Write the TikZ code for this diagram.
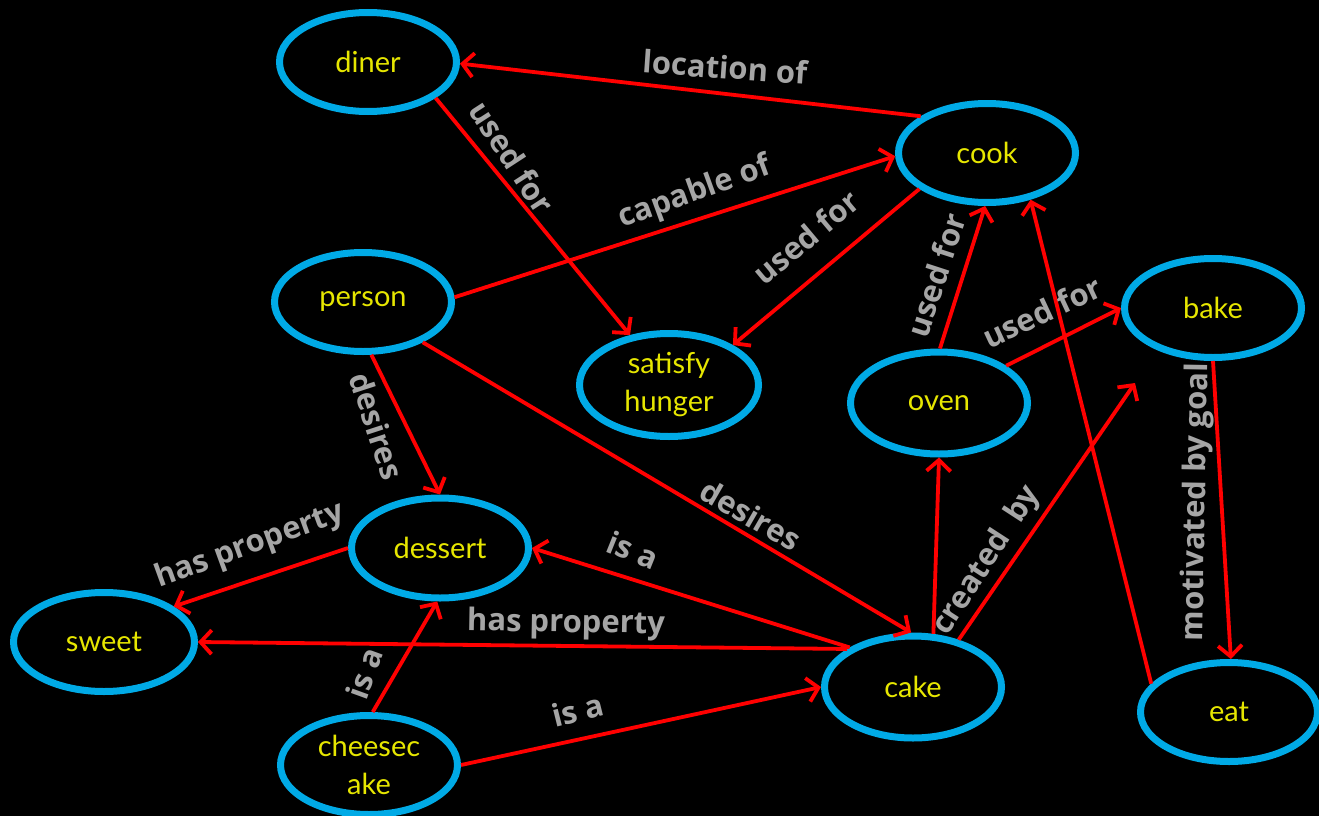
\documentclass[tikz,border=0pt]{standalone}
\usepackage{fontspec}
\setmainfont{Lato}
\newfontfamily\lblfont{Open Sans}
\usetikzlibrary{shapes.geometric,arrows.meta}
\definecolor{cblue}{RGB}{0,170,230}
\definecolor{cyellow}{RGB}{230,230,0}
\definecolor{lblgray}{RGB}{165,165,165}
\definecolor{cred}{RGB}{255,0,0}
\begin{document}
\begin{tikzpicture}[x=1pt,y=-1pt,
  concept/.style={ellipse, draw=cblue, line width=7pt, minimum width=177pt, minimum height=99pt,
    inner sep=0pt, text=cyellow, font=\fontsize{29}{38}\selectfont, align=center},
  conn/.style={draw=cred, line width=3.8pt, -{Straight Barb[length=11pt,width=24pt]}},
  lbl/.style={text=lblgray, font=\lblfont\bfseries\fontsize{31}{33}\selectfont, inner sep=0pt}]
\fill[black] (0,0) rectangle (1319,816);
\useasboundingbox (0,0) rectangle (1319,816);
% nodes
\node[concept] (diner) at (368,62) {diner};
\node[concept] (cook) at (987,153) {cook};
\node[concept] (person) at (363,302) {person};
\node[concept, minimum width=179pt, minimum height=103pt] (hunger) at (669,385) {satisfy\\hunger};
\node[concept] (bake) at (1213,308) {bake};
\node[concept, minimum height=102pt] (oven) at (939,403) {oven};
\node[concept, minimum height=100pt] (dessert) at (440,548) {dessert};
\node[concept, minimum width=181pt] (sweet) at (104,642) {sweet};
\node[concept, minimum height=102pt] (cake) at (913,687) {cake};
\node[concept] (eat) at (1229,712) {eat};
\node[concept] (cheese) at (369,765) {cheesec\\ake};
\coordinate (bakeend) at (1135,383);
% connectors
\draw[conn] (cook.151) -- (diner.-1);
\draw[conn] (diner.-28) -- (hunger.128);
\draw[conn] (person.3) -- (cook.182);
\draw[conn] (cook.208) -- (hunger.32);
\draw[conn] (oven.89) -- (cook.268);
\draw[conn] (oven.29) -- (bake.180);
\draw[conn] (eat.160) -- (cook.-47);
\draw[conn] (bake.270) -- (eat.88);
\draw[conn] (person.-81) -- (dessert.90);
\draw[conn] (person.-34) -- (cake.92);
\draw[conn] (cake.69) -- (oven.270);
\draw[conn] (cake.46) -- (bakeend);
\draw[conn] (cake.148) -- (dessert.0);
\draw[conn] (cake.150) -- (sweet.0);
\draw[conn] (dessert.180) -- (sweet.27);
\draw[conn] (cheese.86) -- (dessert.267);
\draw[conn] (cheese.0) -- (cake.180);
% labels
\node[lbl, rotate=-4] (l1) at (725,67) {location of};
\node[lbl, rotate=-57] (l2) at (512,157) {used for};
\node[lbl, rotate=20] (l3) at (695,193) {capable of};
\node[lbl, rotate=40] (l4) at (806,237) {used for};
\node[lbl, rotate=72] (l5) at (936,275) {used for};
\node[lbl, rotate=25] (l6) at (1042,312) {used for};
\node[lbl, rotate=89] (l7) at (1197,502) {motivated by goal};
\node[lbl, rotate=-72] (l8) at (377,426) {desires};
\node[lbl, rotate=-30] (l9) at (751,515) {desires};
\node[lbl, rotate=20] (l10) at (250,546) {has property};
\node[lbl, rotate=-22] (l11) at (633,550) {is a};
\node[lbl, rotate=-1] (l12) at (566,624) {has property};
\node[lbl, rotate=70] (l13) at (364,673) {is a};
\node[lbl, rotate=14] (l14) at (578,710) {is a};
\node[lbl, rotate=57] (l15) at (987,561) {created\ \ by};
\end{tikzpicture}
\end{document}
